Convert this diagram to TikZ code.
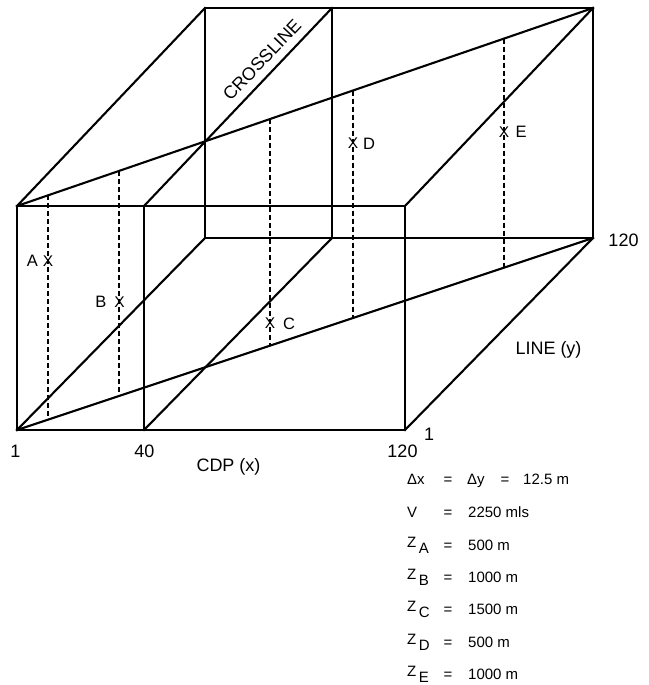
\documentclass[tikz,border=0pt]{standalone}
\usepackage{fontspec}
\setmainfont{Liberation Sans}
\usetikzlibrary{calc}
\begin{document}
\begin{tikzpicture}[x=1pt,y=-1pt,
  edge/.style={line width=2.1pt, line join=miter, line cap=rect},
  trace/.style={line width=1.2pt, dash pattern=on 5pt off 3pt},
  lab/.style={inner sep=0pt, font=\fontsize{18}{21}\selectfont, anchor=base},
  ptlab/.style={inner sep=0pt, font=\fontsize{16.5}{19}\selectfont, anchor=base},
  xmark/.style={inner sep=0pt, font=\fontsize{15.5}{18}\selectfont},
  eqt/.style={inner sep=0pt, font=\fontsize{15}{18}\selectfont, anchor=base west},
  eqs/.style={inner sep=0pt, font=\fontsize{15}{18}\selectfont, anchor=base},
]
\useasboundingbox (0,0) rectangle (648,685);

% cube corners
\coordinate (F1) at (17,206);
\coordinate (F2) at (17,430);
\coordinate (F3) at (405,430);
\coordinate (F4) at (405,206);
\coordinate (B1) at (205,8);
\coordinate (B2) at (205,238);
\coordinate (B3) at (593,238);
\coordinate (B4) at (593,8);
% crossline plane
\coordinate (C1) at (144,206);
\coordinate (C2) at (144,430);
\coordinate (C3) at (332,238);
\coordinate (C4) at (332,8);

% dashed traces
\foreach \n/\t in {A/0.0538, B/0.1771, C/0.4392, D/0.5833, E/0.8455} {
  \coordinate (T\n) at ($(F1)!\t!(B4)$);
  \coordinate (L\n) at ($(F2)!\t!(B3)$);
  \draw[trace] (T\n) -- (L\n);
}

% box edges
\draw[edge] (F1) -- (F2) -- (F3) -- (F4) -- cycle;
\draw[edge] (B1) -- (B2) -- (B3) -- (B4) -- cycle;
\draw[edge] (F1) -- (B1);
\draw[edge] (F2) -- (B2);
\draw[edge] (F3) -- (B3);
\draw[edge] (F4) -- (B4);
\draw[edge] (C1) -- (C2);
\draw[edge] (C4) -- (C3);
\draw[edge] (C1) -- (C4);
\draw[edge] (C2) -- (C3);
\draw[edge] (F1) -- (B4);
\draw[edge] (F2) -- (B3);

% points
\node[xmark] (mA) at (48,261) {X};
\node[xmark] (mB) at (119.5,302) {X};
\node[xmark] (mC) at (270,323) {X};
\node[xmark] (mD) at (353,143) {X};
\node[xmark] (mE) at (504,132) {X};
\node[ptlab] (pA) at (32.5,266.7) {A};
\node[ptlab] (pB) at (101,307) {B};
\node[ptlab] (pC) at (289,329) {C};
\node[ptlab] (pD) at (369,149) {D};
\node[ptlab] (pE) at (521,137) {E};

% axis labels
\node[lab] (l1) at (15.5,457) {1};
\node[lab] (l40) at (144.5,457) {40};
\node[lab] (l120b) at (402.5,457) {120};
\node[lab] (l1r) at (429,440) {1};
\node[lab] (l120r) at (623.5,246) {120};
\node[lab] (cdp) at (228.5,471.5) {CDP (x)};
\node[lab] (liney) at (548.5,354) {LINE (y)};
\node[inner sep=0pt, rotate=46.5, font=\fontsize{18}{21}\selectfont] (cl) at (262,60) {CROSSLINE};

% parameters
\node[eqt] (r1a) at (407,484) {Δx};
\node[eqs] (r1b) at (448,484) {=};
\node[eqt] (r1c) at (467,484) {Δy};
\node[eqs] (r1d) at (505,484) {=};
\node[eqt] (r1e) at (523,484) {12.5 m};

\node[eqt] (r2a) at (407,517) {V};
\node[eqs] (r2b) at (448,517) {=};
\node[eqt] (r2c) at (468,517) {2250 mls};

\foreach \s/\yy/\v in {A/550/500 m, B/582/1000 m, C/614.5/1500 m, D/647/500 m, E/679/1000 m} {
  \node[eqt] (z\s) at (407,\yy) {\raisebox{3pt}{Z}\hspace{2.5pt}\raisebox{-3pt}{\s}};
  \node[eqs] (q\s) at (448,\yy) {=};
  \node[eqt] (w\s) at (468,\yy) {\v};
}
\end{tikzpicture}
\end{document}
